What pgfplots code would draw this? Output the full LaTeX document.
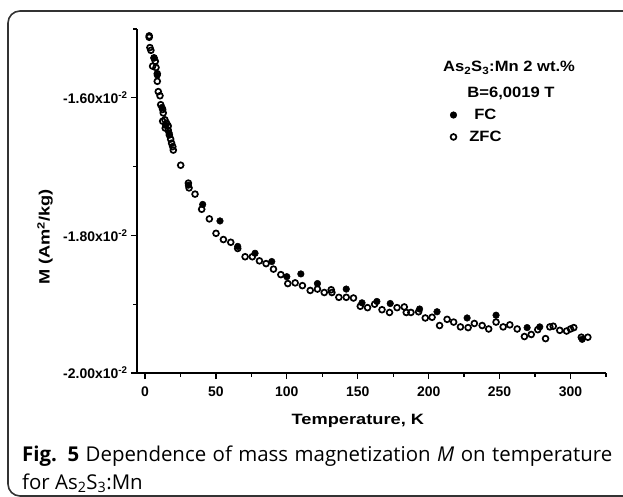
\documentclass[border=0pt]{standalone}
\usepackage{pgfplots}
\pgfplotsset{compat=1.18}
\usepackage{fontspec}
\setmainfont{Liberation Sans}
\newfontfamily\widesans[FakeStretch=1.22]{Liberation Sans}
\newfontfamily\midsans[FakeStretch=1.11]{Liberation Sans}
\newfontfamily\capfont{Open Sans}

\pgfplotstableread{
x y
6.4 -0.01542
8.7 -0.01567
12.0 -0.01614
14.5 -0.01640
17.0 -0.01651
30.6 -0.01727
40.7 -0.01755
52.9 -0.01779
65.4 -0.01816
77.6 -0.01826
89.4 -0.01838
100.0 -0.01860
109.9 -0.01856
121.6 -0.01870
141.9 -0.01878
153.0 -0.01898
163.5 -0.01896
172.9 -0.01899
193.6 -0.01907
205.9 -0.01911
227.1 -0.01920
247.5 -0.01916
269.4 -0.01934
278.3 -0.01933
308.2 -0.01951
}\fcdata

\pgfplotstableread{
x y
3.0 -0.01510
3.0 -0.01512
3.5 -0.01527
4.2 -0.01531
5.4 -0.01554
6.4 -0.01542
7.3 -0.01547
7.8 -0.01556
8.7 -0.01565
8.7 -0.01576
9.4 -0.01591
10.6 -0.01597
11.1 -0.01610
12.5 -0.01617
12.9 -0.01622
12.5 -0.01634
14.1 -0.01632
15.3 -0.01637
16.4 -0.01641
14.3 -0.01644
16.4 -0.01647
17.2 -0.01654
18.1 -0.01660
18.8 -0.01666
19.6 -0.01671
20.0 -0.01676
25.2 -0.01698
30.6 -0.01724
31.1 -0.01731
35.3 -0.01740
40.0 -0.01762
45.4 -0.01776
50.1 -0.01797
55.3 -0.01806
60.5 -0.01810
65.4 -0.01819
70.6 -0.01831
75.7 -0.01831
80.7 -0.01837
85.4 -0.01841
90.6 -0.01849
95.8 -0.01857
100.7 -0.01870
105.9 -0.01869
111.0 -0.01873
116.5 -0.01880
121.6 -0.01878
126.4 -0.01883
131.3 -0.01879
131.8 -0.01883
136.7 -0.01890
141.9 -0.01890
147.0 -0.01891
151.8 -0.01903
156.9 -0.01905
161.9 -0.01900
167.1 -0.01908
172.4 -0.01912
177.7 -0.01905
182.8 -0.01904
184.2 -0.01912
187.5 -0.01912
192.9 -0.01911
197.6 -0.01920
202.4 -0.01919
207.7 -0.01931
213.0 -0.01922
217.6 -0.01926
222.4 -0.01933
227.8 -0.01934
232.2 -0.01928
237.7 -0.01931
242.3 -0.01936
247.5 -0.01926
252.5 -0.01933
257.2 -0.01930
262.4 -0.01936
267.5 -0.01947
272.3 -0.01944
276.9 -0.01937
282.4 -0.01950
285.4 -0.01933
287.8 -0.01932
292.4 -0.01938
297.2 -0.01939
300.0 -0.01936
302.3 -0.01934
307.6 -0.01948
312.2 -0.01948
}\zfcdata

\begin{document}
\begin{tikzpicture}
\useasboundingbox (-137bp,-124bp) rectangle (486bp,373bp);
\draw[line width=1.6bp, black!80, rounded corners=12bp] (520bp,-123bp) -- (-129bp,-123bp) -- (-129bp,362bp) -- (520bp,362bp);
\begin{axis}[
  at={(0bp,0bp)}, anchor=south west,
  scale only axis, width=469bp, height=344bp,
  xmin=-5.6, xmax=325, ymin=-0.0200, ymax=-0.0150,
  axis x line*=bottom, axis y line*=left,
  axis line style={line width=1.6bp, black},
  tick align=outside,
  major tick length=6bp, minor tick length=3.5bp,
  every tick/.style={line width=1.3bp, black},
  xtick={0,50,...,300}, minor xtick={25,75,...,325},
  ytick={-0.020,-0.018,-0.016}, minor ytick={-0.019,-0.017,-0.015},
  yticklabels={\textbf{-2.00x10\textsuperscript{-2}},\textbf{-1.80x10\textsuperscript{-2}},\textbf{-1.60x10\textsuperscript{-2}}},
  scaled y ticks=false,
  /pgf/number format/assume math mode=true,
  xticklabel style={font=\bfseries\fontsize{14}{14}\selectfont, yshift=-4bp},
  yticklabel style={font=\bfseries\fontsize{14}{14}\selectfont},
  xlabel={\textbf{Temperature, K}},
  xlabel style={font=\widesans\fontsize{15}{15}\selectfont, at={(axis description cs:0.471,0)}, anchor=base, yshift=-51bp},
  ylabel={\textbf{M (Am\textsuperscript{2}/kg)}},
  ylabel style={font=\widesans\fontsize{15}{15}\selectfont, at={(axis description cs:-0.196,0.395)}, anchor=center},
  legend style={draw=none, fill=none, at={(axis description cs:0.661,0.778)}, anchor=north west,
    font=\midsans\bfseries\fontsize{15}{15}\selectfont, row sep=7bp, nodes={inner sep=1.5bp}},
  legend cell align=left,
  clip=false,
]
\addplot[only marks, mark=*, mark size=3.3bp, mark options={fill=black, draw=black, line width=0.5bp}] table[x=x,y=y] {\fcdata};
\addlegendentry{\hspace{16bp}FC}
\addplot[only marks, mark=o, mark size=2.9bp, mark options={fill=white, draw=black, line width=1.7bp}] table[x=x,y=y] {\zfcdata};
\addlegendentry{\hspace{11bp}ZFC}
\end{axis}
\node[anchor=base, font=\midsans\bfseries\fontsize{15}{15}\selectfont] at (372bp,301bp) {As\textsubscript{2}S\textsubscript{3}:Mn 2 wt.\%};
\node[anchor=base, font=\midsans\bfseries\fontsize{15}{15}\selectfont] at (374bp,275bp) {B=6,0019 T};
\node[anchor=base west, inner sep=0, font=\capfont\fontsize{20.5}{20.5}\selectfont] at (-115bp,-88bp) {\makebox[590bp][s]{\textbf{Fig. 5} Dependence of mass magnetization \textit{M} on temperature}};
\node[anchor=base west, inner sep=0, font=\capfont\fontsize{20.5}{20.5}\selectfont] at (-115bp,-116bp) {for As\textsubscript{2}S\textsubscript{3}:Mn};
\end{tikzpicture}
\end{document}
